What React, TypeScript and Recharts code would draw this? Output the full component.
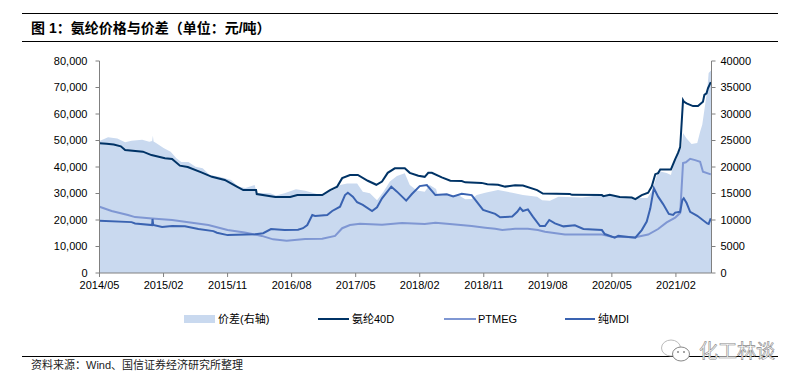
import React from "react";
import { ComposedChart, Area, Line, XAxis, YAxis, Legend } from "recharts";

const tickLabels = ["2014/05","2015/02","2015/11","2016/08","2017/05","2018/02","2018/11","2019/08","2020/05","2021/02"];
const tickMonths = [0,9,18,27,36,45,54,63,72,81];
const leftTicks = [0,10000,20000,30000,40000,50000,60000,70000,80000];
const rightTicks = [0,5000,10000,15000,20000,25000,30000,35000,40000];

const spandexMonths = [0,1,2,3,3.6,6.1,7.3,9.2,10.2,11.3,12.4,14.4,15.8,17.6,19.3,20.2,22,22.1,24.7,26.8,27.8,31.3,32.4,33.4,34.1,35.2,36.3,37.7,38.9,39.7,40.5,41.5,42.9,43.6,44.8,45.7,46.2,46.7,48.1,49.3,50.9,51.4,53.7,54.5,56,57,58.4,59.5,61.5,62.3,66.1,66.4,70.6,70.8,71.7,73.1,74.8,75.3,76.2,77.1,77.6,78.1,78.5,78.8,80.3,80.9,81.3,81.6,82,82.1,82.5,83.4,84.1,84.8,85,85.3,85.5,85.9];
const spandexValues = [49000,48800,48500,47800,46400,45800,44500,43300,43000,40500,40000,37900,36300,35100,32600,31300,31300,29800,28700,28700,29400,29400,31300,32600,35800,37000,37000,34800,33300,34500,37800,39500,39500,37800,36700,36300,37800,37800,36100,34800,34700,34200,34000,33500,33300,32600,33100,33000,31300,30000,29800,29500,29400,29000,29500,28700,28500,27900,29400,30300,32600,37300,37700,39100,39100,43000,45300,47500,65200,64700,64000,63000,63000,64600,67200,67800,69700,72000];

const spreadMonths = [0,1.2,2.5,3.6,4.5,6,7,7.4,7.5,7.6,8,9,10,10.8,11.5,12.5,13.5,14.5,15.5,17,18.5,19.5,20.5,21.8,22.1,24,24.8,26,27.6,28.9,31.3,31.7,33.1,33.8,34.8,36.2,37,38,39,39.9,40.8,41.8,42.9,43.6,44.6,45.7,46.4,47.3,47.5,50.4,51.4,52.3,53,54.2,56,58,59.5,61.5,62.2,63.3,64.5,67.8,70.6,74.8,77,77.7,78.5,79.7,80.3,80.8,81.4,81.8,82,82.5,83.2,84,84.4,84.7,85,85.4,85.6,86];
const spreadValues = [24900,25600,25400,24650,24950,25150,24750,24900,25900,24800,24500,23600,22900,21650,20950,20950,20050,19750,18500,18100,17550,16300,16050,16600,15100,15050,14600,15050,15800,15500,14600,15050,15800,16600,16900,16900,15350,15050,13750,15350,17250,18300,18800,16600,15550,15350,16600,15850,14700,14700,13900,13950,14700,15150,15650,15150,14700,14400,13750,13650,14400,14250,14700,14150,14150,15650,19250,18850,18500,21150,22900,23750,26400,25400,24350,24550,26650,27950,30750,34550,37750,38300];

const ptmegMonths = [0,1.7,4,5,7.4,10.2,13,15.3,18,20.4,22.8,24.4,26.3,28.9,31.3,33.1,34.1,35.2,36.6,39.7,42.5,45.7,47.2,49.6,52.3,54.2,55.6,56.6,58.4,60.2,61.6,62.6,65.4,70.6,72,75.3,77.1,78.5,79.7,80.9,81.6,82,82.4,83,83.7,84.4,84.8,85.9];
const ptmegValues = [25000,23400,21900,21100,20600,20000,19000,18100,16200,15300,14000,12700,12200,12800,12900,14000,16900,18100,18600,18200,18900,18500,19000,18400,17700,17100,16700,16200,16700,16700,16200,15600,14500,14500,13700,13500,14500,16600,19100,20900,22600,41500,41800,43100,42600,42000,38200,37200];

const mdiMonths = [0,4.5,5,7.4,7.45,7.55,8.8,10.2,12,13.9,16,16.5,18,21.9,23,24.1,26,27.9,28.6,29.2,29.9,30.3,32,32.7,33.8,34.5,34.9,35.6,36.2,37,38.3,39,39.7,41,41.8,43.1,43.9,45,46,47.2,48.8,49.7,50.9,52.3,53,53.9,55.6,56.3,58,58.7,59.1,59.5,60.2,60.9,61.9,62.6,63.2,64,65.2,66.8,68,70.6,71,72.4,72.9,75.3,76.2,76.9,77.4,77.9,78.5,79.2,80,80.6,80.9,81.6,81.9,82.1,82.5,83,84,85.4,85.6,85.9];
const mdiValues = [19700,19200,18700,18100,20400,18100,17400,17700,17600,16600,15800,15200,14300,14600,15000,16600,16200,16300,16900,18100,21900,21500,21900,23400,25000,29400,30300,28800,26700,25700,23400,24800,28200,32600,30700,27300,29800,32800,33200,29400,29700,28900,29900,29400,26900,23800,22300,21000,21300,23100,24600,23400,24000,21300,17700,17700,20000,18700,17600,18000,16600,16200,14700,13300,14000,13300,16200,19400,24400,32000,28800,26000,22300,21900,22800,23100,27500,28200,26400,23100,21600,18700,18500,20600];

const seriesNames = { spread: "价差(右轴)", spandex: "氨纶40D", ptmeg: "PTMEG", mdi: "纯MDI" };
const titleText = "图 1：氨纶价格与价差（单位：元/吨）";
const sourceText = "资料来源：Wind、国信证券经济研究所整理";
const watermarkText = "化工林谈";

const allMonths = Array.from(new Set([...spandexMonths, ...spreadMonths, ...ptmegMonths, ...mdiMonths])).sort((a, b) => a - b);
const pick = (months: number[], values: number[], m: number) => {
  const i = months.indexOf(m);
  return i >= 0 ? values[i] : null;
};
const rows = allMonths.map((m) => ({
  m,
  spread: pick(spreadMonths, spreadValues, m),
  spandex: pick(spandexMonths, spandexValues, m),
  ptmeg: pick(ptmegMonths, ptmegValues, m),
  mdi: pick(mdiMonths, mdiValues, m),
}));

const FONT = '"Liberation Sans", "Noto Sans CJK SC", sans-serif';
const AREA = "#c9d9ef";
const DARK = "#003366";
const PT = "#7f97d3";
const MDI = "#3a63b1";
const AXIS = "#808080";

const legendLayout = [
  { key: "spread", x: 184, w: 31, color: AREA, area: true, tx: 218 },
  { key: "spandex", x: 318, w: 31, color: DARK, area: false, tx: 352 },
  { key: "ptmeg", x: 444, w: 32, color: PT, area: false, tx: 478 },
  { key: "mdi", x: 565, w: 30, color: MDI, area: false, tx: 598 },
];

const LegendContent = () => (
  <div style={{ position: "absolute", left: 0, top: 0, width: 0, height: 0 }}>
    {legendLayout.map((l) => (
      <React.Fragment key={l.key}>
        <div style={{ position: "absolute", left: l.x, top: l.area ? 315 : 317.5, width: l.w, height: l.area ? 8 : 2, background: l.color }} />
        <div style={{ position: "absolute", left: l.tx, top: 312, fontSize: 11, lineHeight: "14px", whiteSpace: "nowrap", color: "#000", fontFamily: FONT }}>
          {(seriesNames as any)[l.key]}
        </div>
      </React.Fragment>
    ))}
  </div>
);

const rule = (y: number) => (
  <div style={{ position: "absolute", left: 22, top: y, width: 756, height: 1, background: "#000" }} />
);

export default function App() {
  return (
    <div style={{ position: "absolute", left: 0, top: 0, width: 799, height: 384, background: "#fff", overflow: "hidden", fontFamily: FONT }}>
      {rule(13)}
      {rule(41)}
      {rule(356)}
      <div style={{ position: "absolute", left: 31, top: 19, fontSize: 14, fontWeight: 700, lineHeight: "18px", whiteSpace: "nowrap", color: "#000" }}>{titleText}</div>
      <div style={{ position: "absolute", left: 31, top: 358, fontSize: 11, lineHeight: "14px", whiteSpace: "nowrap", color: "#222" }}>{sourceText}</div>
      <div style={{ position: "absolute", left: 0, top: 0 }}>
        <ComposedChart width={799} height={384} data={rows} margin={{ top: 61, right: 37.5, bottom: 81, left: 39.5 }}>
          <XAxis
            xAxisId="x"
            dataKey="m"
            type="number"
            domain={[0, 86]}
            ticks={tickMonths}
            tickFormatter={(v: number) => tickLabels[tickMonths.indexOf(v)]}
            interval={0}
            height={30}
            stroke={AXIS}
            tickSize={4}
            tick={{ fontSize: 11, fill: "#000", fontFamily: FONT }}
            tickMargin={4}
          />
          <YAxis
            yAxisId="left"
            orientation="left"
            width={60}
            domain={[0, 80000]}
            ticks={leftTicks}
            interval={0}
            stroke={AXIS}
            tickSize={4}
            tickMargin={8}
            tickFormatter={(v: number) => v.toLocaleString("en-US")}
            tick={{ fontSize: 11, fill: "#000", fontFamily: FONT }}
          />
          <YAxis
            yAxisId="right"
            orientation="right"
            width={50}
            domain={[0, 40000]}
            ticks={rightTicks}
            interval={0}
            stroke={AXIS}
            tickSize={4}
            tickMargin={5}
            tick={{ fontSize: 11, fill: "#000", fontFamily: FONT }}
          />
          <Legend content={<LegendContent />} wrapperStyle={{ position: "absolute", left: 0, top: 0, width: 0, height: 0 }} />
          <Area xAxisId="x" yAxisId="right" name={seriesNames.spread} dataKey="spread" type="linear" connectNulls fill={AREA} fillOpacity={1} stroke="none" dot={false} activeDot={false} isAnimationActive={false} />
          <Line xAxisId="x" yAxisId="left" name={seriesNames.ptmeg} dataKey="ptmeg" type="linear" connectNulls stroke={PT} strokeWidth={2} dot={false} activeDot={false} isAnimationActive={false} />
          <Line xAxisId="x" yAxisId="left" name={seriesNames.mdi} dataKey="mdi" type="linear" connectNulls stroke={MDI} strokeWidth={2} dot={false} activeDot={false} isAnimationActive={false} />
          <Line xAxisId="x" yAxisId="left" name={seriesNames.spandex} dataKey="spandex" type="linear" connectNulls stroke={DARK} strokeWidth={2} dot={false} activeDot={false} isAnimationActive={false} />
        </ComposedChart>
      </div>
      <svg width={34} height={28} style={{ position: "absolute", left: 660, top: 337 }}>
        <ellipse cx={11} cy={11} rx={9.5} ry={8} fill="#fff" stroke="#bbb" strokeWidth={1} />
        <ellipse cx={21} cy={17} rx={8.5} ry={7} fill="#fff" stroke="#888" strokeWidth={1} />
        <circle cx={18} cy={15} r={1} fill="#888" />
        <circle cx={24} cy={15} r={1} fill="#888" />
      </svg>
      <div style={{ position: "absolute", left: 699, top: 338, fontSize: 19, lineHeight: "24px", letterSpacing: 0, whiteSpace: "nowrap", color: "#fff", WebkitTextStroke: "0.6px #888", fontFamily: '"Noto Sans CJK SC", sans-serif' }}>{watermarkText}</div>
    </div>
  );
}
